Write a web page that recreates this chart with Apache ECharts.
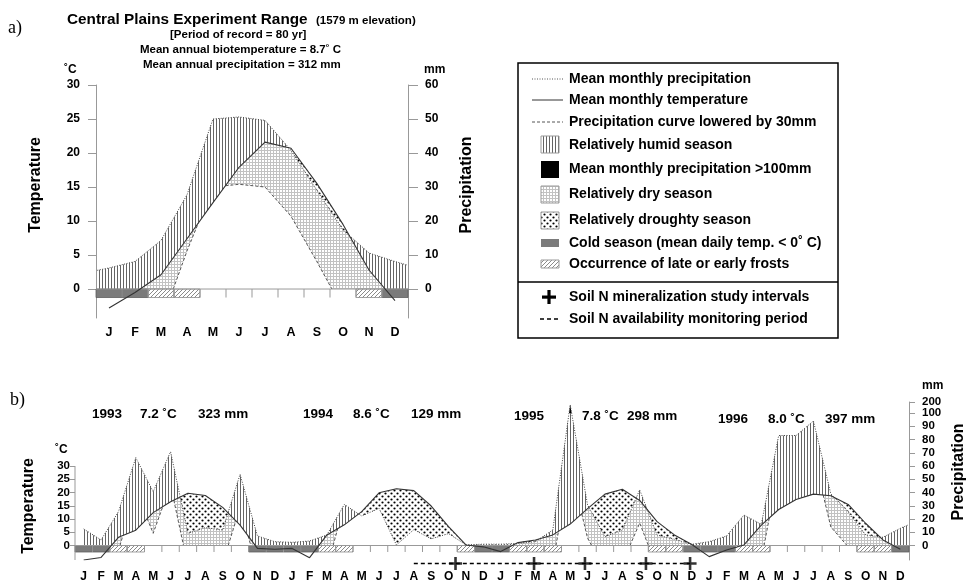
<!DOCTYPE html>
<html>
<head>
<meta charset="utf-8">
<script src="https://cdn.jsdelivr.net/npm/echarts@6/dist/echarts.min.js"></script>
</head>
<body style="margin:0;background:#fff">
<div id="main" style="width:966px;height:582px"></div>
<script>
var months = ['J', 'F', 'M', 'A', 'M', 'J', 'J', 'A', 'S', 'O', 'N', 'D'];

// a) long-term means (values at month centres)
var tempA = [-2.8, -0.5, 2.1, 7.4, 12.7, 17.9, 21.6, 20.7, 15.5, 9.5, 2.8, -1.7];          // degC
var precipA = [6.2, 8.1, 14.3, 27.7, 50.0, 50.6, 49.6, 40.8, 29.0, 17.4, 10.6, 8.1];        // mm
var precipAEdge = [5.5, 7.1];                                                              // mm at left / right axis
var lowA = [-7, -6, -5, 5.6, 15.0, 15.4, 15.0, 10.7, 4.0, -3, -6, -6];                     // lowered curve, degC scale
var coldA = [0, 1, 11];
var frostA = [2, 3, 10];
var tempTicksA = [0, 5, 10, 15, 20, 25, 30];
var precipTicksA = [0, 10, 20, 30, 40, 50, 60];

// b) 1993-1996 monthly values
var tempB = [
  -5.5, -4.5, 3.1, 5.8, 12.4, 16.5, 19.7, 18.9, 14.4, 7.7, -1.1, -1.4,
  -1.1, -4.6, 4.0, 7.8, 12.8, 19.9, 21.4, 20.7, 14.9, 7.1, 0.2, -0.5,
  -2.3, 1.1, 2.1, 4.0, 8.1, 13.9, 19.4, 21.2, 17.0, 9.0, 4.0, 0.4,
  -4.2, -1.7, 0.2, 7.7, 13.6, 17.4, 19.4, 18.8, 15.5, 8.4, 2.1, -1.4
];
var precipB = [
  12.5, 4.2, 25.5, 66.3, 40.6, 70.8, 9.2, 13.5, 11.7, 53.7, 7.2, 2.9,
  2.4, 3.4, 8.0, 31.0, 22.3, 28.0, 0.4, 12.0, 5.0, 9.0, 0.5, 1.0,
  1.0, 1.6, 3.0, 11.7, 175, 30.6, 6.7, 11.7, 42.0, 7.9, 4.7, 0.9,
  2.9, 7.2, 23.0, 16.0, 83.0, 83.0, 94.0, 39.0, 25.5, 8.0, 6.2, 13.0
];
var precipBEdge = 15.5;
var lowB = [
  -6.3, -10.4, -2, 20.7, 4.6, 22.9, -7.9, -5.8, -6.7, 14.4, -8.9, -11,
  -11.3, -10.8, -8.5, 15.5, 11.15, 14, 0.2, 6, 2.5, 4.5, 0.25, -12,
  -12, -11.7, -11, -6.6, 30, 2.8, -9.2, -6.7, 8.5, -8.5, -10.2, -12,
  -11, -8.9, -1, -5.4, 29, 29, 34.5, 7, -0.5, -8.5, -9.4, -6
];
var coldB = [0, 1, 10, 11, 12, 13, 23, 24, 35, 36, 37, 47];
var frostB = [2, 3, 14, 15, 22, 25, 26, 27, 33, 34, 38, 39, 45, 46];
var tempTicksB = [0, 5, 10, 15, 20, 25, 30];
var precipTicksB = [0, 10, 20, 30, 40, 50, 60, 70, 80, 90, 100];
var precipTopTickB = 200;
var soilNPlus = [21.9, 26.42, 29.35, 32.86, 35.4];
var soilNPeriod = [19.5, 35.4];
var years = [
  ['1993', '7.2 ˚C', '323 mm'],
  ['1994', '8.6 ˚C', '129 mm'],
  ['1995', '7.8 ˚C', '298 mm'],
  ['1996', '8.0 ˚C', '397 mm']
];

// 10 degC = 20 mm; panel b above 100 mm compressed to the 200 mm tick
var yMinA = -4.26, yMinB = -5.47, yTopB = 54.15;
function unitsA(p) { return p / 2; }
function unitsB(p) { return p <= 100 ? p / 2 : 50 + (p - 100) / 100 * (yTopB - 50); }
function centres(n) { var r = []; for (var i = 0; i < n; i++) r.push(i + 0.5); return r; }

var xA = centres(12), xB = centres(48);
var pxA = [0.05].concat(xA, [11.95]);
var pyA = [precipAEdge[0]].concat(precipA, [precipAEdge[1]]).map(unitsA);
var pxB = xB.concat([47.95]);
var pyB = precipB.concat([precipBEdge]).map(unitsB);

function pairs(xs, ys) { return xs.map(function (x, i) { return [x, ys[i]]; }); }

function makePattern(w, h, draw) {
  var cv = document.createElement('canvas');
  cv.width = w; cv.height = h;
  draw(cv.getContext('2d'));
  return { image: cv, repeat: 'repeat' };
}
var humidFill = makePattern(3, 4, function (g) { g.fillStyle = '#646464'; g.fillRect(0, 0, 1, 4); });
var dryFill = makePattern(3, 3, function (g) { g.fillStyle = '#c2c2c2'; g.fillRect(0, 0, 3, 1); g.fillRect(0, 0, 1, 3); });
var droughtFill = makePattern(6, 6, function (g) {
  g.fillStyle = '#000';
  g.beginPath(); g.arc(1.5, 1.5, 1.1, 0, 7); g.fill();
  g.beginPath(); g.arc(4.5, 4.5, 1.1, 0, 7); g.fill();
});
var frostFill = makePattern(4, 4, function (g) {
  g.strokeStyle = '#8a8a8a'; g.lineWidth = 1;
  g.beginPath(); g.moveTo(0, 4); g.lineTo(4, 0); g.moveTo(-1, 1); g.lineTo(1, -1); g.moveTo(3, 5); g.lineTo(5, 3); g.stroke();
});

function pw(xs, ys) {
  return function (x) {
    var n = xs.length;
    if (x <= xs[0]) return ys[0];
    if (x >= xs[n - 1]) return ys[n - 1];
    for (var i = 0; i < n - 1; i++) {
      if (x <= xs[i + 1]) return ys[i] + (x - xs[i]) / (xs[i + 1] - xs[i]) * (ys[i + 1] - ys[i]);
    }
  };
}
function uniq(a) {
  a.sort(function (p, q) { return p - q; });
  return a.filter(function (v, i) { return i === 0 || v - a[i - 1] > 1e-9; });
}

function panelRender(cfg) {
  return function (params, api) {
    var out = [];
    var c = function (x, y) { return api.coord([x, y]); };
    var fP = pw(cfg.px, cfg.py), fT = pw(cfg.tx, cfg.ty), fL = pw(cfg.tx, cfg.ly);
    var cap = cfg.cap;
    var x0 = cfg.px[0], x1 = cfg.px[cfg.px.length - 1];
    var fns = [fP, fT, fL, function () { return 0; }, function () { return cap; }];
    var knots = uniq(cfg.px.concat(cfg.tx, [x0, x1]).filter(function (x) { return x >= x0 && x <= x1; }));
    var xs = knots.slice();
    for (var k = 0; k < knots.length - 1; k++) {
      var a = knots[k], b = knots[k + 1];
      for (var i = 0; i < fns.length; i++) {
        for (var j = i + 1; j < fns.length; j++) {
          var da = fns[i](a) - fns[j](a), db = fns[i](b) - fns[j](b);
          if (da * db < 0) xs.push(a + (b - a) * da / (da - db));
        }
      }
    }
    xs = uniq(xs);
    var val = function (x) { return { p: fP(x), t: fT(x), l: fL(x) }; };
    var kinds = [
      { fill: humidFill, span: function (v) { return [Math.max(v.t, 0), Math.min(v.p, cap)]; } },
      { fill: '#000', span: function (v) { return [cap, v.p]; } },
      { fill: dryFill, span: function (v) { return [Math.max(v.l, 0), Math.min(v.t, v.p)]; } },
      { fill: droughtFill, span: function (v) { return [v.p, v.t]; } }
    ];
    kinds.forEach(function (kind) {
      var top = [], bot = [];
      var flush = function () {
        if (top.length) out.push({ type: 'polygon', shape: { points: top.concat(bot.reverse()) }, style: { fill: kind.fill } });
        top = []; bot = [];
      };
      for (var k = 0; k < xs.length - 1; k++) {
        var a = xs[k], b = xs[k + 1];
        var sm = kind.span(val((a + b) / 2));
        if (sm[1] - sm[0] > 1e-6) {
          var sa = kind.span(val(a)), sb = kind.span(val(b));
          if (!top.length) { top.push(c(a, sa[1])); bot.push(c(a, sa[0])); }
          top.push(c(b, sb[1])); bot.push(c(b, sb[0]));
        } else flush();
      }
      flush();
    });
    // lowered precipitation curve, only where it runs under the temperature curve
    var line = [];
    var flushLine = function () {
      if (line.length > 1) out.push({ type: 'polyline', shape: { points: line }, style: { stroke: '#555', lineWidth: 1, lineDash: [3, 2], fill: null } });
      line = [];
    };
    for (var k2 = 0; k2 < xs.length - 1; k2++) {
      var a2 = xs[k2], b2 = xs[k2 + 1], vm = val((a2 + b2) / 2);
      if (vm.l > 1e-6 && vm.l < Math.min(vm.t, vm.p) - 1e-6) {
        if (!line.length) line.push(c(a2, Math.max(fL(a2), 0)));
        line.push(c(b2, Math.max(fL(b2), 0)));
      } else flushLine();
    }
    flushLine();

    // cold season and frost bars under the zero line
    cfg.cold.forEach(function (m) {
      var p0 = c(m, 0), p1 = c(m + 1, -cfg.barH);
      out.push({ type: 'rect', shape: { x: p0[0], y: p0[1], width: p1[0] - p0[0], height: p1[1] - p0[1] }, style: { fill: '#7b7b7b', stroke: '#5e5e5e', lineWidth: 0.8 } });
    });
    cfg.frost.forEach(function (m) {
      var p0 = c(m, 0), p1 = c(m + 1, -cfg.barH);
      out.push({ type: 'rect', shape: { x: p0[0], y: p0[1], width: p1[0] - p0[0], height: p1[1] - p0[1] }, style: { fill: frostFill, stroke: '#8a8a8a', lineWidth: 0.8 } });
    });
    for (var m = 1; m < cfg.n; m++) {
      var q0 = c(m, 0), q1 = c(m, -cfg.barH);
      out.push({ type: 'line', shape: { x1: q0[0], y1: q0[1], x2: q1[0], y2: q1[1] }, style: { stroke: '#999', lineWidth: 1 } });
    }
    var z0 = c(0, 0), z1 = c(cfg.n, 0);
    out.push({ type: 'line', shape: { x1: z0[0], y1: z0[1], x2: z1[0], y2: z1[1] }, style: { stroke: '#999', lineWidth: 1 } });
    if (cfg.leftAxis) {
      var l0 = c(0, cfg.leftAxis[0]), l1 = c(0, cfg.leftAxis[1]);
      out.push({ type: 'line', shape: { x1: l0[0], y1: l0[1], x2: l1[0], y2: l1[1] }, style: { stroke: '#999', lineWidth: 1 } });
    }
    return { type: 'group', children: out };
  };
}

var FONT = '"Liberation Sans", Arial, sans-serif';
var labelStyle = { color: '#000', fontWeight: 'bold', fontFamily: FONT };
var axisGray = { color: '#999', width: 1 };

function txt(s, x, y, size, extra) {
  var el = {
    type: 'text', x: x, y: y, silent: true,
    style: { text: s, font: 'bold ' + size + 'px ' + FONT, fill: '#000', textAlign: 'left', align: 'left', textVerticalAlign: 'middle', verticalAlign: 'middle' }
  };
  if (extra) {
    for (var key in extra) {
      if (key === 'style') { for (var s2 in extra.style) el.style[s2] = extra.style[s2]; }
      else el[key] = extra[key];
    }
  }
  return el;
}
function vtxt(s, x, y, size) {
  return txt(s, x, y, size, { rotation: Math.PI / 2, style: { textAlign: 'center', align: 'center' } });
}

var graphics = [
  txt('a)', 8, 28, 18, { style: { font: '18px "Liberation Serif", serif' } }),
  txt('Central Plains Experiment Range', 67, 20, 15.3),
  txt('(1579 m elevation)', 316, 21, 11.5),
  txt('[Period of record = 80 yr]', 170, 35, 11.5),
  txt('Mean annual biotemperature = 8.7˚ C', 140, 50, 11.5),
  txt('Mean annual precipitation = 312 mm', 143, 65, 11.5),
  txt('˚C', 64, 70, 12),
  txt('mm', 424, 70, 12),
  vtxt('Temperature', 36, 185, 16),
  vtxt('Precipitation', 467, 185, 16),
  txt('b)', 10, 400, 18, { style: { font: '18px "Liberation Serif", serif' } }),
  txt('˚C', 55, 450, 12),
  txt('mm', 922, 386, 12),
  vtxt('Temperature', 29, 506, 16),
  vtxt('Precipitation', 959, 472, 16)
];
var yearPos = [[92, 140, 198, 414], [303, 353, 411, 414], [514, 582, 627, 416], [718, 768, 825, 419]];
years.forEach(function (y, i) {
  var p = yearPos[i];
  graphics.push(txt(y[0], p[0], p[3], 13.5), txt(y[1], p[1], p[3], 13.5), txt(y[2], p[2], p[3], 13.5));
});

// legend box
var legendItems = [
  'Mean monthly precipitation', 'Mean monthly temperature', 'Precipitation curve lowered by 30mm',
  'Relatively humid season', 'Mean monthly precipitation >100mm', 'Relatively dry season',
  'Relatively droughty season', 'Cold season (mean daily temp. < 0˚ C)', 'Occurrence of late or early frosts',
  'Soil N mineralization study intervals', 'Soil N availability monitoring period'
];
var legendY = [79, 100, 122, 145, 169, 194, 220, 243, 264, 297, 319];
graphics.push({ type: 'rect', shape: { x: 518, y: 63, width: 320, height: 275 }, style: { fill: null, stroke: '#000', lineWidth: 1.5 } });
graphics.push({ type: 'line', shape: { x1: 518, y1: 282, x2: 838, y2: 282 }, style: { stroke: '#000', lineWidth: 1.5 } });
legendItems.forEach(function (s, i) { graphics.push(txt(s, 569, legendY[i], 14)); });
graphics.push(
  { type: 'line', shape: { x1: 532, y1: 79, x2: 563, y2: 79 }, style: { stroke: '#555', lineWidth: 1, lineDash: [1, 1.5] } },
  { type: 'line', shape: { x1: 532, y1: 100, x2: 563, y2: 100 }, style: { stroke: '#333', lineWidth: 1 } },
  { type: 'line', shape: { x1: 532, y1: 122, x2: 563, y2: 122 }, style: { stroke: '#555', lineWidth: 1, lineDash: [3, 2] } },
  { type: 'rect', shape: { x: 541, y: 136, width: 18, height: 17 }, style: { fill: humidFill, stroke: '#999', lineWidth: 1 } },
  { type: 'rect', shape: { x: 541, y: 161, width: 18, height: 17 }, style: { fill: '#000' } },
  { type: 'rect', shape: { x: 541, y: 186, width: 18, height: 17 }, style: { fill: dryFill, stroke: '#999', lineWidth: 1 } },
  { type: 'rect', shape: { x: 541, y: 212, width: 18, height: 17 }, style: { fill: droughtFill, stroke: '#999', lineWidth: 1 } },
  { type: 'rect', shape: { x: 541, y: 239, width: 18, height: 8 }, style: { fill: '#7b7b7b' } },
  { type: 'rect', shape: { x: 541, y: 260, width: 18, height: 8 }, style: { fill: frostFill, stroke: '#999', lineWidth: 1 } },
  { type: 'rect', shape: { x: 542, y: 295.5, width: 14, height: 3.2 }, style: { fill: '#000' } },
  { type: 'rect', shape: { x: 547.4, y: 290, width: 3.2, height: 14 }, style: { fill: '#000' } },
  { type: 'line', shape: { x1: 540, y1: 319, x2: 559, y2: 319 }, style: { stroke: '#000', lineWidth: 1.5, lineDash: [4, 3] } }
);

var monthFmt = function (v) { return months[Math.floor(v) % 12]; };
var yMaxB = unitsB(precipTopTickB) + 0.01;
var mmFmtB = function (v) {
  var all = precipTicksB.concat([precipTopTickB]), best = all[0];
  all.forEach(function (t) { if (Math.abs(unitsB(t) - v) < Math.abs(unitsB(best) - v)) best = t; });
  return String(best);
};

var option = {
  animation: false,
  backgroundColor: '#fff',
  textStyle: { fontFamily: FONT },
  grid: [
    { left: 96, top: 85, width: 312, height: 233, outerBoundsMode: 'none', containLabel: false },
    { left: 75, top: 402, width: 834, height: 158, outerBoundsMode: 'none', containLabel: false }
  ],
  xAxis: [
    { gridIndex: 0, type: 'value', min: 0, max: 12, axisLine: { show: false, onZero: false }, axisTick: { show: false }, splitLine: { show: false },
      axisLabel: Object.assign({ customValues: xA, formatter: monthFmt, fontSize: 12.5, margin: 8, showMinLabel: true, showMaxLabel: true }, labelStyle) },
    { gridIndex: 1, type: 'value', min: 0, max: 48, axisLine: { show: false, onZero: false }, axisTick: { show: false }, splitLine: { show: false },
      axisLabel: Object.assign({ customValues: xB, formatter: monthFmt, fontSize: 12, margin: 11, showMinLabel: true, showMaxLabel: true }, labelStyle) }
  ],
  yAxis: [
    { gridIndex: 0, type: 'value', min: yMinA, max: 30, position: 'left', splitLine: { show: false },
      axisLine: { show: true, onZero: false, lineStyle: axisGray },
      axisTick: { customValues: tempTicksA, length: 8, lineStyle: axisGray },
      axisLabel: Object.assign({ customValues: tempTicksA, fontSize: 12, margin: 16, showMaxLabel: true }, labelStyle) },
    { gridIndex: 0, type: 'value', min: yMinA * 2, max: 60, position: 'right', splitLine: { show: false },
      axisLine: { show: true, onZero: false, lineStyle: axisGray },
      axisTick: { customValues: precipTicksA, length: 10, lineStyle: axisGray },
      axisLabel: Object.assign({ customValues: precipTicksA, fontSize: 12, margin: 17, showMaxLabel: true }, labelStyle) },
    { gridIndex: 1, type: 'value', min: yMinB, max: yMaxB, position: 'left', splitLine: { show: false },
      axisLine: { show: false, onZero: false },
      axisTick: { customValues: tempTicksB, length: 5, lineStyle: axisGray },
      axisLabel: Object.assign({ customValues: tempTicksB, fontSize: 11.5, margin: 5, showMaxLabel: true }, labelStyle) },
    { gridIndex: 1, type: 'value', min: yMinB, max: yMaxB, position: 'right', splitLine: { show: false },
      axisLine: { show: true, onZero: false, lineStyle: axisGray },
      axisTick: { customValues: precipTicksB.concat([precipTopTickB]).map(unitsB), length: 6, lineStyle: axisGray },
      axisLabel: Object.assign({ customValues: precipTicksB.map(unitsB), fontSize: 11.5, margin: 13, showMinLabel: true, showMaxLabel: true, formatter: mmFmtB }, labelStyle) },
    // label for the compressed top of the precipitation scale
    { gridIndex: 1, type: 'value', min: yMinB, max: yMaxB, position: 'right', splitLine: { show: false },
      axisLine: { show: false, onZero: false }, axisTick: { show: false },
      axisLabel: Object.assign({ customValues: [unitsB(precipTopTickB)], fontSize: 11.5, margin: 13, showMinLabel: true, showMaxLabel: true, formatter: mmFmtB }, labelStyle) }
  ],
  graphic: graphics,
  series: [
    { type: 'custom', xAxisIndex: 0, yAxisIndex: 0, z: 1, silent: true, data: [[0, 0]],
      renderItem: panelRender({ n: 12, px: pxA, py: pyA, tx: xA, ty: tempA, ly: lowA, cap: 999, cold: coldA, frost: frostA, barH: 1.25 }) },
    { type: 'line', xAxisIndex: 0, yAxisIndex: 0, z: 5, silent: true, symbol: 'none', data: pairs(pxA, pyA),
      lineStyle: { color: '#444', width: 1, type: [1, 1.5] } },
    { type: 'line', xAxisIndex: 0, yAxisIndex: 0, z: 6, silent: true, symbol: 'none', data: pairs(xA, tempA),
      lineStyle: { color: '#333', width: 1.1 } },
    { type: 'custom', xAxisIndex: 1, yAxisIndex: 2, z: 1, silent: true, data: [[0, 0]],
      renderItem: panelRender({ n: 48, px: pxB, py: pyB, tx: xB, ty: tempB, ly: lowB, cap: 50, cold: coldB, frost: frostB, barH: 2.45, leftAxis: [30, yMinB] }) },
    { type: 'line', xAxisIndex: 1, yAxisIndex: 2, z: 5, silent: true, symbol: 'none', data: pairs(pxB, pyB),
      lineStyle: { color: '#444', width: 1, type: [1, 1.5] } },
    { type: 'line', xAxisIndex: 1, yAxisIndex: 2, z: 6, silent: true, symbol: 'none', data: pairs(xB, tempB),
      lineStyle: { color: '#333', width: 1.1 } },
    { type: 'line', xAxisIndex: 1, yAxisIndex: 2, z: 6, silent: true, symbol: 'none', clip: false,
      data: [[soilNPeriod[0], -6.8], [soilNPeriod[1], -6.8]],
      lineStyle: { color: '#000', width: 1.5, type: [4, 3] } },
    { type: 'scatter', xAxisIndex: 1, yAxisIndex: 2, z: 7, silent: true, clip: false,
      data: soilNPlus.map(function (x) { return [x, -6.8]; }),
      symbol: 'path://M4 0H6V4H10V6H6V10H4V6H0V4H4Z', symbolSize: 13, itemStyle: { color: '#000' } }
  ]
};

var chart = echarts.init(document.getElementById('main'));
chart.setOption(option);
</script>
</body>
</html>
